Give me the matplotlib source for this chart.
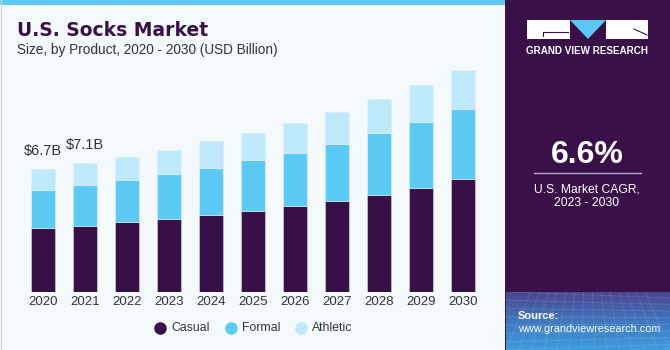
import matplotlib
matplotlib.use("Agg")
import matplotlib.pyplot as plt
import numpy as np
from matplotlib.patches import Rectangle, Polygon
from matplotlib.lines import Line2D
from matplotlib.colors import LinearSegmentedColormap

years = ["2020", "2021", "2022", "2023", "2024", "2025", "2026", "2027", "2028", "2029", "2030"]
casual = [3.52, 3.63, 3.85, 4.01, 4.23, 4.47, 4.73, 4.98, 5.33, 5.73, 6.19]
formal = [2.09, 2.25, 2.31, 2.47, 2.60, 2.77, 2.93, 3.16, 3.39, 3.63, 3.86]
athletic = [1.15, 1.21, 1.26, 1.32, 1.47, 1.50, 1.63, 1.76, 1.88, 2.02, 2.16]
series_names = ["Casual", "Formal", "Athletic"]
annotations = {0: "$6.7B", 1: "$7.1B"}

C_CASUAL = "#371047"
C_FORMAL = "#5BCBF5"
C_ATH = "#BDE9FA"
BG = "#F4F9FC"
PURPLE = "#3A1049"

W, H = 670, 350
fig = plt.figure(figsize=(6.7, 3.5), dpi=100)
fig.patch.set_facecolor(BG)
FONT = "Liberation Sans"

def fx(px):
    return px / W

def fy(py):
    return 1 - py / H

def rect(x0, y0, x1, y1, color, z=0, **kw):
    fig.patches.append(Rectangle((fx(x0), fy(y1)), fx(x1) - fx(x0), (y1 - y0) / H,
                                 transform=fig.transFigure, facecolor=color,
                                 edgecolor="none", zorder=z, **kw))

# left panel border & top stripe
rect(0, 0, 505, 5, "#5BC8F5", z=1)
fig.add_artist(Line2D([fx(0.5), fx(0.5)], [0, 1], color="#d0d4d8", lw=1, transform=fig.transFigure))
# right panel
rect(505, 0, 670, 350, PURPLE, z=1)

# source gradient box
gax = fig.add_axes([fx(506), 0, fx(670) - fx(506), 58 / H])
gax.set_zorder(2)
grad = np.linspace(0, 1, 100).reshape(-1, 1)
cmap = LinearSegmentedColormap.from_list("g", ["#4B4590", "#3F78C0", "#3E9BDB"])
gax.imshow(grad, aspect="auto", cmap=cmap, extent=[0, 1, 0, 1], origin="upper")
for i in np.linspace(0, 1, 14):
    gax.plot([i, i * 0.7 + 0.15], [0, 1], color="white", alpha=0.12, lw=0.6)
for j in np.linspace(0, 1, 8):
    gax.plot([0, 1], [j, j * 0.8 + 0.1], color="white", alpha=0.12, lw=0.6)
gax.set_xlim(0, 1)
gax.set_ylim(0, 1)
gax.axis("off")

# main axes: bars
x = np.arange(len(years))
ax = fig.add_axes([fx(21.8), 58 / H, fx(483.8) - fx(21.8), 232 / H])
ax.set_facecolor("none")
ax.set_xlim(-0.5, 10.5)
ax.set_ylim(0, 232 / 18.2)
bw = 0.58
c = np.array(casual)
f = np.array(formal)
a = np.array(athletic)
ax.bar(x, c, bw, color=C_CASUAL, edgecolor="#d8dde5", linewidth=0.4)
ax.bar(x, f, bw, bottom=c, color=C_FORMAL, edgecolor="#e6eef5", linewidth=0.4)
ax.bar(x, a, bw, bottom=c + f, color=C_ATH, edgecolor="#e6eef5", linewidth=0.4)
for i, lab in annotations.items():
    tot = c[i] + f[i] + a[i]
    ax.annotate(lab, (x[i], tot), xytext=(0, 8), textcoords="offset points",
                ha="center", va="bottom", fontsize=10.5, color="#333333", family=FONT)
ax.set_xticks(x)
ax.set_xticklabels(years, fontsize=9.5, color="#333333", family=FONT)
ax.tick_params(axis="x", length=0, pad=3)
ax.set_yticks([])
for s in ax.spines.values():
    s.set_visible(False)

# title
fig.text(fx(17), fy(30), "U.S. Socks Market", fontsize=13.5, fontweight="heavy", color=PURPLE,
         family="DejaVu Sans", va="center", ha="left")
fig.text(fx(17), fy(50), "Size, by Product, 2020 - 2030 (USD Billion)", fontsize=9.8,
         color="#333333", family=FONT, va="center", ha="left")

# legend
leg_items = [(160, C_CASUAL, series_names[0]), (231, C_FORMAL, series_names[1]), (301, C_ATH, series_names[2])]
for px_, col, name in leg_items:
    fig.add_artist(Line2D([fx(px_)], [fy(328)], marker="o", markersize=8, color=col,
                          linestyle="none", transform=fig.transFigure))
    fig.text(fx(px_ + 11), fy(328), name, fontsize=8.8, color="#333333", family=FONT,
             va="center", ha="left")

# logo
rect(527, 20, 570, 39, "white", z=3)
rect(606, 20, 648, 39, "white", z=3)
fig.patches.append(Polygon([(fx(570), fy(20)), (fx(606), fy(20)), (fx(588), fy(39))],
                           closed=True, transform=fig.transFigure, facecolor="#5BC8F5",
                           edgecolor="none", zorder=3))
fig.add_artist(Line2D([fx(543), fx(568)], [fy(32), fy(32)], color=PURPLE, lw=0.8, transform=fig.transFigure, zorder=4))
fig.add_artist(Line2D([fx(543), fx(543)], [fy(32), fy(36)], color=PURPLE, lw=0.8, transform=fig.transFigure, zorder=4))
fig.add_artist(Line2D([fx(634), fx(647)], [fy(29), fy(35)], color=PURPLE, lw=0.8, transform=fig.transFigure, zorder=4))
fig.text(fx(587), fy(51), "GRAND VIEW RESEARCH", fontsize=7.1, fontweight="bold", color="white",
         family=FONT, ha="center", va="center")

# CAGR
fig.text(fx(587), fy(155), "6.6%", fontsize=23, fontweight="bold", color="white",
         family=FONT, ha="center", va="center")
fig.add_artist(Line2D([fx(534), fx(641)], [fy(173), fy(173)], color="#b8a8c8", lw=1, transform=fig.transFigure))
fig.text(fx(587), fy(190), "U.S. Market CAGR,", fontsize=8.7, color="white", family=FONT,
         ha="center", va="center")
fig.text(fx(587), fy(203), "2023 - 2030", fontsize=8.7, color="white", family=FONT,
         ha="center", va="center")

# source
fig.text(fx(518), fy(316), "Source:", fontsize=8, fontweight="bold", color="white",
         family=FONT, ha="left", va="center", zorder=5)
fig.text(fx(518), fy(329), "www.grandviewresearch.com", fontsize=7.8, color="white",
         family=FONT, ha="left", va="center", zorder=5)

fig.savefig("out.png", dpi=100, facecolor=BG)
